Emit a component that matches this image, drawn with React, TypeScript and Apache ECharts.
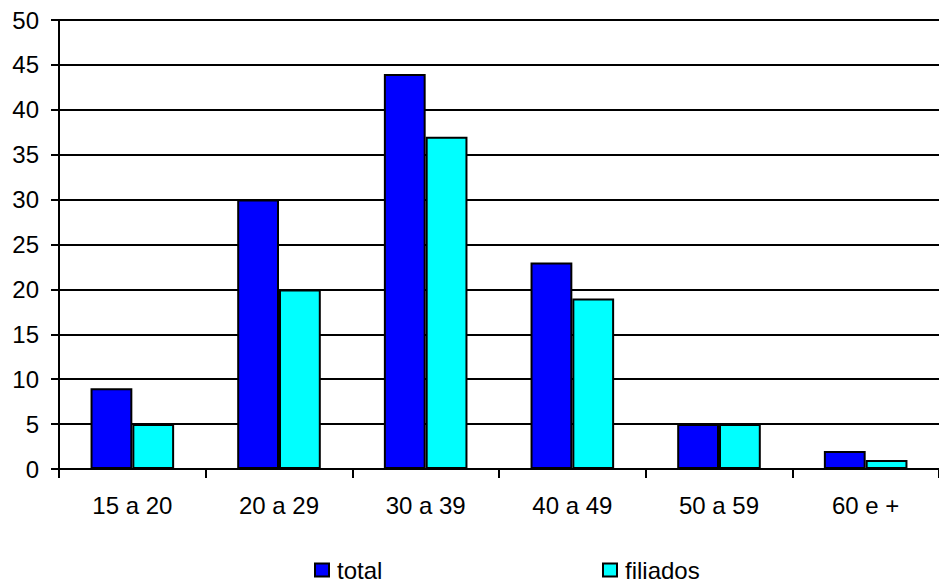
import React, { useEffect, useRef } from "react";
import * as echarts from "echarts";

const categories = ["15 a 20", "20 a 29", "30 a 39", "40 a 49", "50 a 59", "60 e +"];
const totalValues = [9, 30, 44, 23, 5, 2];
const filiadosValues = [5, 20, 37, 19, 5, 1];
const seriesNames = ["total", "filiados"];

const FONT = "'Liberation Sans', Arial, sans-serif";
const FS = 24;

export default function App() {
  const ref = useRef<HTMLDivElement>(null);
  useEffect(() => {
    document.body.style.margin = "0";
    const chart = echarts.init(ref.current!, null, { renderer: "svg" });
    const legendCommon = {
      top: 558,
      itemWidth: 14,
      itemHeight: 13,
      itemGap: 0,
      padding: 0,
      icon: "rect",
      textStyle: { fontSize: FS, color: "#000", fontFamily: FONT, padding: [0, 0, 0, 3] },
    };
    chart.setOption({
      animation: false,
      backgroundColor: "#ffffff",
      textStyle: { fontFamily: FONT },
      grid: { left: 59, top: 20, width: 888, height: 449, containLabel: false },
      legend: [
        { ...legendCommon, data: [seriesNames[0]], left: 314 },
        { ...legendCommon, data: [seriesNames[1]], left: 602 },
      ],
      xAxis: {
        type: "category",
        data: categories,
        axisLine: { show: true, lineStyle: { color: "#000", width: 2 } },
        axisTick: { show: true, length: 9, lineStyle: { color: "#000", width: 2 } },
        axisLabel: { fontSize: FS, color: "#000", margin: 24, fontFamily: FONT },
      },
      yAxis: {
        type: "value",
        min: 0,
        max: 50,
        interval: 5,
        axisLine: { show: true, lineStyle: { color: "#000", width: 2 } },
        axisTick: { show: true, length: 8, lineStyle: { color: "#000", width: 2 } },
        axisLabel: { fontSize: FS, color: "#000", margin: 20, fontFamily: FONT },
        splitLine: { show: true, lineStyle: { color: "#000", width: 2 } },
      },
      series: [
        {
          name: seriesNames[0],
          type: "bar",
          data: totalValues,
          barGap: "0%",
          barCategoryGap: "43%",
          itemStyle: { color: "#0000FF", borderColor: "#000", borderWidth: 2 },
        },
        {
          name: seriesNames[1],
          type: "bar",
          data: filiadosValues,
          barGap: "0%",
          barCategoryGap: "43%",
          itemStyle: { color: "#00FFFF", borderColor: "#000", borderWidth: 2 },
        },
      ],
    });
    return () => chart.dispose();
  }, []);
  return <div ref={ref} style={{ width: 939, height: 583, position: "absolute", left: 0, top: 0 }} />;
}
